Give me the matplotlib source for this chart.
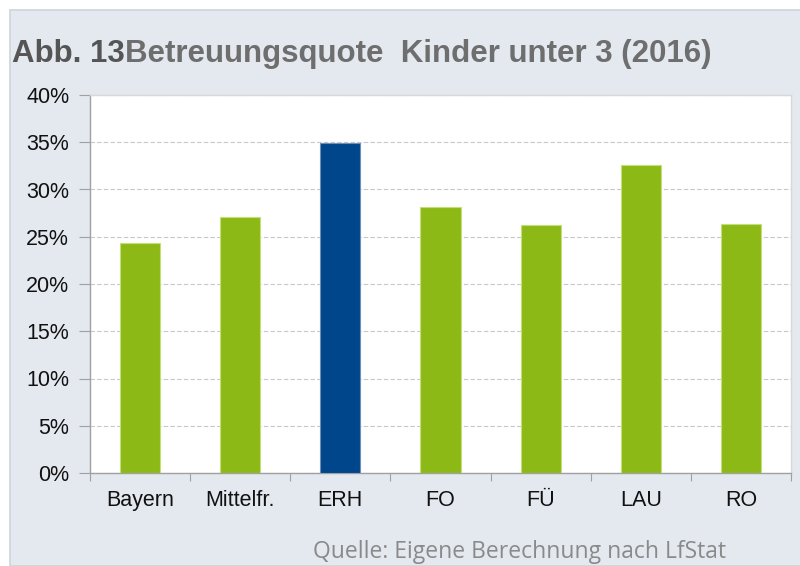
import matplotlib
matplotlib.use("Agg")
import matplotlib.pyplot as plt
from matplotlib.patches import Rectangle
from matplotlib.ticker import FuncFormatter, MultipleLocator

categories = ["Bayern", "Mittelfr.", "ERH", "FO", "FÜ", "LAU", "RO"]
values = [24.3, 27.1, 34.9, 28.1, 26.2, 32.6, 26.3]
highlight = "ERH"

GREEN = "#8DB917"
BLUE = "#00468B"
BG = "#E4E8EF"

fig = plt.figure(figsize=(8, 5.66), dpi=100)
fig.patch.set_facecolor("white")
fig.patches.append(Rectangle((10/800, 0), 1, 1 - 10/566, transform=fig.transFigure,
                             facecolor=BG, edgecolor="#d0d3d8", linewidth=1.2, zorder=-10))

ax = fig.add_axes([90/800, 1 - 473/566, (791-90)/800, (473-95)/566])
ax.set_facecolor("white")

x = range(len(categories))
colors = [BLUE if c == highlight else GREEN for c in categories]
edges = ["#6f8fba" if c == highlight else "#c4de7a" for c in categories]
ax.bar(x, values, width=0.4, color=colors, edgecolor=edges, linewidth=0.8, zorder=3)

ax.set_xlim(-0.5, len(categories) - 0.5)
ax.set_ylim(0, 40)
ax.yaxis.set_major_locator(MultipleLocator(5))
ax.yaxis.set_major_formatter(FuncFormatter(lambda v, p: f"{int(v)}%"))
ax.grid(axis="y", color="#c8c8c8", linestyle=(0, (4, 2)), linewidth=0.8, zorder=0)

ax.set_xticks([i - 0.5 for i in range(len(categories) + 1)], minor=False)
ax.set_xticklabels([])
ax.set_xticks(list(x), minor=True)
ax.set_xticklabels(categories, minor=True)
ax.tick_params(axis="x", which="minor", length=0, pad=12, labelsize=15.5)
ax.tick_params(axis="x", which="major", length=6, color="#a0a0a0", direction="out")
ax.tick_params(axis="y", length=8, color="#a0a0a0", direction="out", labelsize=15.5, pad=7)
for lab in ax.get_xticklabels(minor=True) + ax.get_yticklabels():
    lab.set_family("Liberation Sans")
    lab.set_color("#111111")

for s in ["left", "bottom"]:
    ax.spines[s].set_color("#a0a0a0")
    ax.spines[s].set_linewidth(1.0)
for s in ["top", "right"]:
    ax.spines[s].set_color("#d8d8d8")
    ax.spines[s].set_linewidth(1.0)

t1 = fig.text(12/800, 1 - 62/566, "Abb. 13", fontsize=22.5, fontweight="bold", color="#555555",
              family="Liberation Sans", va="baseline", ha="left")
fig.canvas.draw()
bb = t1.get_window_extent(fig.canvas.get_renderer())
x2 = bb.x1 / 800
fig.text(x2, 1 - 62/566, "Betreuungsquote  Kinder unter 3 (2016)", fontsize=22.5,
         fontweight="bold", color="#6e6e6e", family="Liberation Sans", va="baseline", ha="left")

fig.text(313/800, 1 - 552/566, "Quelle: Eigene Berechnung nach LfStat", fontsize=16.5,
         color="#8a8a8a", family="Open Sans", va="center", ha="left")

fig.savefig("out.png", dpi=100, facecolor=fig.get_facecolor())
